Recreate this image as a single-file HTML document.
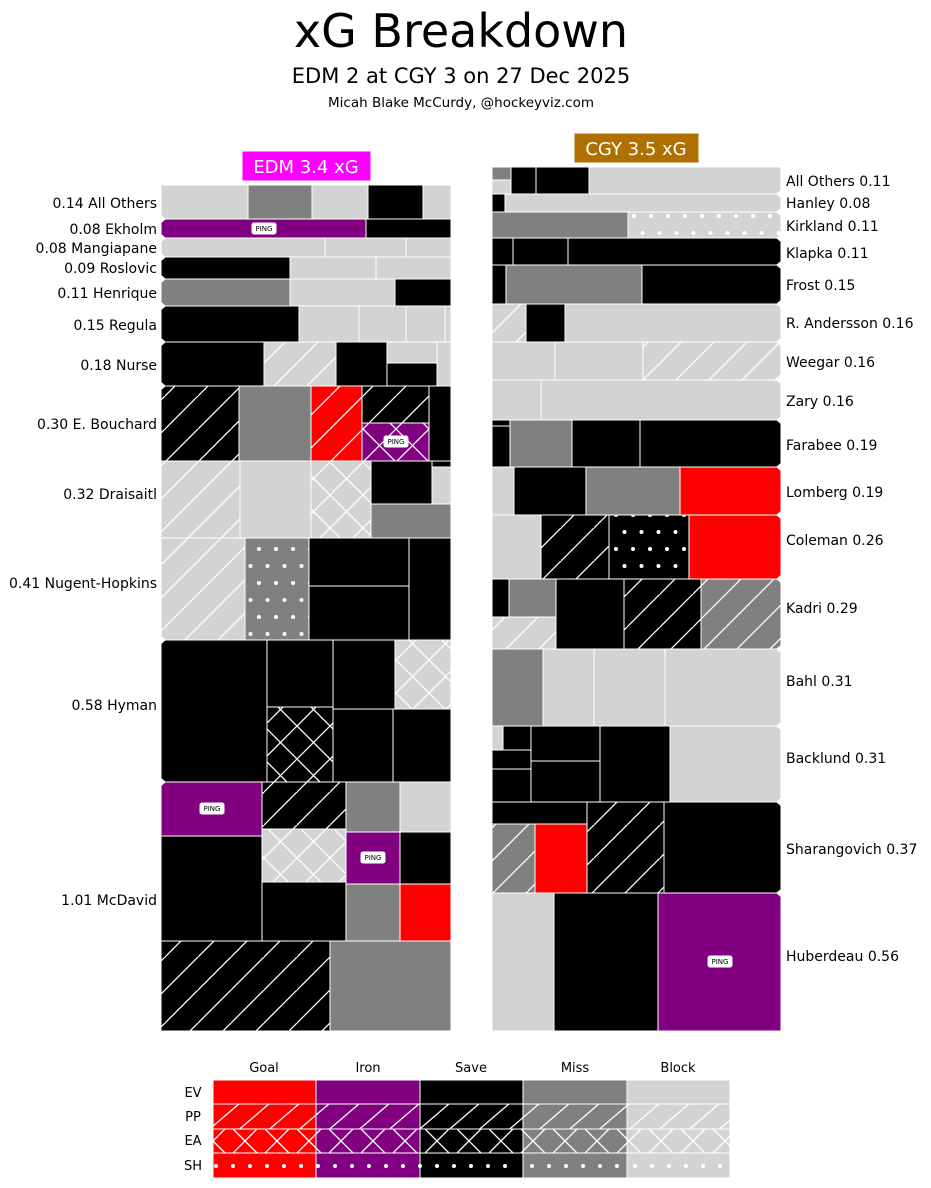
<!DOCTYPE html>
<html><head><meta charset="utf-8"><style>
body{margin:0;background:#fff;}
svg{display:block;font-family:"DejaVu Sans","Liberation Sans",sans-serif;}
.lg{fill:#d3d3d3}.g{fill:#808080}.k{fill:#000}.r{fill:#f00}.p{fill:#800080}
rect{stroke:#fff;stroke-width:1}
.d{fill:url(#d)}.x{fill:url(#x)}.o{fill:url(#o)}
</style></head><body>
<svg width="931" height="1188" viewBox="0 0 931 1188" xmlns="http://www.w3.org/2000/svg">
<defs>
<pattern id="d" patternUnits="userSpaceOnUse" width="33" height="33"><path d="M-5,38 L38,-5 M-38,38 L5,-5" stroke="#fff" stroke-width="1.3" fill="none"/></pattern>
<pattern id="x" patternUnits="userSpaceOnUse" width="33" height="33"><path d="M0,33 L33,0 M0,0 L33,33" stroke="#fff" stroke-width="1.3" fill="none"/></pattern>
<pattern id="o" patternUnits="userSpaceOnUse" width="17" height="34"><circle cx="4" cy="5" r="2" fill="#fff"/><circle cx="12.5" cy="22" r="2" fill="#fff"/></pattern>
<pattern id="o2" patternUnits="userSpaceOnUse" width="17" height="34" y="0"><circle cx="5" cy="12" r="2" fill="#fff"/><circle cx="13.5" cy="29" r="2" fill="#fff"/></pattern>
<pattern id="xl" patternUnits="userSpaceOnUse" width="32" height="24" x="5" y="1129"><path d="M4,0 L28,24 M4,24 L28,0" stroke="#fff" stroke-width="1.3" fill="none"/></pattern>
<pattern id="dl" patternUnits="userSpaceOnUse" width="30" height="25" y="1104"><path d="M-5,29 L30,-1 M25,29 L60,-1 M-35,29 L0,-1" stroke="#fff" stroke-width="1.3" fill="none"/></pattern>
</defs>
<text x="461" y="47" font-size="46" text-anchor="middle">xG Breakdown</text>
<text x="461" y="83" font-size="21" text-anchor="middle">EDM 2 at CGY 3 on 27 Dec 2025</text>
<text x="461" y="107" font-size="13.5" text-anchor="middle">Micah Blake McCurdy, @hockeyviz.com</text>
<rect x="242" y="151" width="129" height="30" fill="#ff00ff" stroke="none"/>
<text x="306" y="173" font-size="18" fill="#fff" text-anchor="middle">EDM 3.4 xG</text>
<rect x="574" y="133" width="125" height="30" fill="#b07000" stroke="none"/>
<text x="636" y="155" font-size="18" fill="#fff" text-anchor="middle">CGY 3.5 xG</text>

<!-- EDM -->
<g>
<rect class="lg" x="161" y="185" width="87" height="34"/><rect class="g" x="248" y="185" width="64" height="34"/><rect class="lg" x="312" y="185" width="56" height="34"/><rect class="k" x="368" y="185" width="55" height="34"/><rect class="lg" x="423" y="185" width="28" height="34"/>
<rect class="p" x="161" y="219" width="205" height="19"/><rect class="k" x="366" y="219" width="85" height="19"/>
<rect class="lg" x="161" y="238" width="164" height="19"/><rect class="lg" x="325" y="238" width="81" height="19"/><rect class="lg" x="406" y="238" width="45" height="19"/>
<rect class="k" x="161" y="257" width="129" height="22"/><rect class="lg" x="290" y="257" width="86" height="22"/><rect class="lg" x="376" y="257" width="75" height="22"/>
<rect class="g" x="161" y="279" width="129" height="27"/><rect class="lg" x="290" y="279" width="105" height="27"/><rect class="k" x="395" y="279" width="56" height="27"/>
<rect class="k" x="161" y="306" width="138" height="36"/><rect class="lg" x="299" y="306" width="60" height="36"/><rect class="lg" x="359" y="306" width="47" height="36"/><rect class="lg" x="406" y="306" width="39" height="36"/><rect class="lg" x="445" y="306" width="6" height="36"/>
<rect class="k" x="161" y="342" width="103" height="44"/><rect class="lg" x="264" y="342" width="72" height="44"/><rect class="d" x="264" y="342" width="72" height="44"/><rect class="k" x="336" y="342" width="51" height="44"/><rect class="lg" x="387" y="342" width="50" height="21"/><rect class="k" x="387" y="363" width="50" height="23"/><rect class="lg" x="437" y="342" width="14" height="44"/>
<rect class="k" x="161" y="386" width="78" height="75"/><rect class="d" x="161" y="386" width="78" height="75"/><rect class="g" x="239" y="386" width="72" height="75"/><rect class="r" x="311" y="386" width="51" height="75"/><rect class="d" x="311" y="386" width="51" height="75"/><rect class="k" x="362" y="386" width="67" height="37"/><rect class="d" x="362" y="386" width="67" height="37"/><rect class="p" x="362" y="423" width="67" height="38"/><rect class="x" x="362" y="423" width="67" height="38"/><rect class="k" x="429" y="386" width="22" height="75"/>
<rect class="lg" x="161" y="461" width="79" height="77"/><rect class="d" x="161" y="461" width="79" height="77"/><rect class="lg" x="240" y="461" width="71" height="77"/><rect class="lg" x="311" y="461" width="60" height="77"/><rect class="x" x="311" y="461" width="60" height="77"/><rect class="k" x="371" y="461" width="61" height="43"/><rect class="k" x="432" y="461" width="19" height="6"/><rect class="lg" x="432" y="467" width="19" height="37"/><rect class="g" x="371" y="504" width="80" height="34"/>
<rect class="lg" x="161" y="538" width="84" height="102"/><rect class="d" x="161" y="538" width="84" height="102"/><rect class="g" x="245" y="538" width="64" height="102"/><rect class="o" x="245" y="538" width="64" height="102"/><rect class="k" x="309" y="538" width="100" height="48"/><rect class="k" x="309" y="586" width="100" height="54"/><rect class="k" x="409" y="538" width="42" height="102"/>
<rect class="k" x="161" y="640" width="106" height="142"/><rect class="k" x="267" y="640" width="66" height="67"/><rect class="k" x="267" y="707" width="66" height="75"/><rect class="x" x="267" y="707" width="66" height="75"/><rect class="k" x="333" y="640" width="62" height="69"/><rect class="lg" x="395" y="640" width="56" height="69"/><rect class="x" x="395" y="640" width="56" height="69"/><rect class="k" x="333" y="709" width="60" height="73"/><rect class="k" x="393" y="709" width="58" height="73"/>
<rect class="p" x="161" y="782" width="101" height="54"/><rect class="k" x="161" y="836" width="101" height="105"/><rect class="k" x="262" y="782" width="84" height="47"/><rect class="d" x="262" y="782" width="84" height="47"/><rect class="lg" x="262" y="829" width="84" height="53"/><rect class="x" x="262" y="829" width="84" height="53"/><rect class="k" x="262" y="882" width="84" height="59"/><rect class="g" x="346" y="782" width="54" height="50"/><rect class="p" x="346" y="832" width="54" height="52"/><rect class="g" x="346" y="884" width="54" height="57"/><rect class="lg" x="400" y="782" width="51" height="50"/><rect class="k" x="400" y="832" width="51" height="52"/><rect class="r" x="400" y="884" width="51" height="57"/><rect class="k" x="161" y="941" width="169" height="90"/><rect class="d" x="161" y="941" width="169" height="90"/><rect class="g" x="330" y="941" width="121" height="90"/>
<g fill="#fff">
<polygon points="160,214 166,219 160,224"/><polygon points="160,233 166,238 160,243"/><polygon points="160,252 166,257 160,262"/><polygon points="160,274 166,279 160,284"/><polygon points="160,301 166,306 160,311"/><polygon points="160,337 166,342 160,347"/><polygon points="160,381 166,386 160,391"/><polygon points="160,635 166,640 160,645"/><polygon points="160,777 166,782 160,787"/>
</g>
</g>
<g font-size="14" text-anchor="end">
<text x="157" y="208">0.14 All Others</text><text x="157" y="234">0.08 Ekholm</text><text x="157" y="253">0.08 Mangiapane</text><text x="157" y="273">0.09 Roslovic</text><text x="157" y="298">0.11 Henrique</text><text x="157" y="330">0.15 Regula</text><text x="157" y="370">0.18 Nurse</text><text x="157" y="429">0.30 E. Bouchard</text><text x="157" y="499">0.32 Draisaitl</text><text x="157" y="588">0.41 Nugent-Hopkins</text><text x="157" y="710">0.58 Hyman</text><text x="157" y="905">1.01 McDavid</text>
</g>

<!-- CGY -->
<g>
<rect class="g" x="492" y="167" width="19" height="13"/><rect class="lg" x="492" y="180" width="19" height="14"/><rect class="k" x="511" y="167" width="25" height="27"/><rect class="k" x="536" y="167" width="53" height="27"/><rect class="lg" x="589" y="167" width="192" height="27"/>
<rect class="k" x="492" y="194" width="13" height="18"/><rect class="lg" x="505" y="194" width="276" height="18"/>
<rect class="g" x="492" y="212" width="136" height="26"/><rect class="lg" x="628" y="212" width="153" height="26"/><rect fill="url(#o2)" x="628" y="212" width="153" height="26"/>
<rect class="k" x="492" y="238" width="21" height="27"/><rect class="k" x="513" y="238" width="55" height="27"/><rect class="k" x="568" y="238" width="213" height="27"/>
<rect class="k" x="492" y="265" width="14" height="39"/><rect class="g" x="506" y="265" width="136" height="39"/><rect class="k" x="642" y="265" width="139" height="39"/>
<rect class="lg" x="492" y="304" width="34" height="38"/><rect class="d" x="492" y="304" width="34" height="38"/><rect class="k" x="526" y="304" width="39" height="38"/><rect class="lg" x="565" y="304" width="216" height="38"/>
<rect class="lg" x="492" y="342" width="63" height="38"/><rect class="lg" x="555" y="342" width="88" height="38"/><rect class="lg" x="643" y="342" width="138" height="38"/><rect class="d" x="643" y="342" width="138" height="38"/>
<rect class="lg" x="492" y="380" width="49" height="40"/><rect class="lg" x="541" y="380" width="240" height="40"/>
<rect class="k" x="492" y="420" width="18" height="6"/><rect class="k" x="492" y="426" width="18" height="41"/><rect class="g" x="510" y="420" width="62" height="47"/><rect class="k" x="572" y="420" width="68" height="47"/><rect class="k" x="640" y="420" width="141" height="47"/>
<rect class="lg" x="492" y="467" width="22" height="48"/><rect class="k" x="514" y="467" width="72" height="48"/><rect class="g" x="586" y="467" width="94" height="48"/><rect class="r" x="680" y="467" width="101" height="48"/>
<rect class="lg" x="492" y="515" width="49" height="64"/><rect class="k" x="541" y="515" width="68" height="64"/><rect class="d" x="541" y="515" width="68" height="64"/><rect class="k" x="609" y="515" width="80" height="64"/><rect class="o" x="609" y="515" width="80" height="64"/><rect class="r" x="689" y="515" width="92" height="64"/>
<rect class="k" x="492" y="579" width="17" height="38"/><rect class="g" x="509" y="579" width="47" height="38"/><rect class="lg" x="492" y="617" width="64" height="32"/><rect class="d" x="492" y="617" width="64" height="32"/><rect class="k" x="556" y="579" width="68" height="70"/><rect class="k" x="624" y="579" width="77" height="70"/><rect class="d" x="624" y="579" width="77" height="70"/><rect class="g" x="701" y="579" width="80" height="70"/><rect class="d" x="701" y="579" width="80" height="70"/>
<rect class="g" x="492" y="649" width="51" height="77"/><rect class="lg" x="543" y="649" width="51" height="77"/><rect class="lg" x="594" y="649" width="71" height="77"/><rect class="lg" x="665" y="649" width="116" height="77"/>
<rect class="lg" x="492" y="726" width="11" height="24"/><rect class="k" x="503" y="726" width="28" height="24"/><rect class="k" x="492" y="750" width="39" height="19"/><rect class="k" x="492" y="769" width="39" height="33"/><rect class="k" x="531" y="726" width="69" height="35"/><rect class="k" x="531" y="761" width="69" height="41"/><rect class="k" x="600" y="726" width="70" height="76"/><rect class="lg" x="670" y="726" width="111" height="76"/>
<rect class="k" x="492" y="802" width="95" height="22"/><rect class="g" x="492" y="824" width="43" height="69"/><rect class="d" x="492" y="824" width="43" height="69"/><rect class="r" x="535" y="824" width="52" height="69"/><rect class="k" x="587" y="802" width="77" height="91"/><rect class="d" x="587" y="802" width="77" height="91"/><rect class="k" x="664" y="802" width="117" height="91"/>
<rect class="lg" x="492" y="893" width="62" height="138"/><rect class="k" x="554" y="893" width="104" height="138"/><rect class="p" x="658" y="893" width="123" height="138"/>
<g fill="#fff">
<polygon points="782,189 776,194 782,199"/><polygon points="782,207 776,212 782,217"/><polygon points="782,233 776,238 782,243"/><polygon points="782,260 776,265 782,270"/><polygon points="782,299 776,304 782,309"/><polygon points="782,337 776,342 782,347"/><polygon points="782,375 776,380 782,385"/><polygon points="782,415 776,420 782,425"/><polygon points="782,462 776,467 782,472"/><polygon points="782,510 776,515 782,520"/><polygon points="782,574 776,579 782,584"/><polygon points="782,644 776,649 782,654"/><polygon points="782,721 776,726 782,731"/><polygon points="782,797 776,802 782,807"/><polygon points="782,888 776,893 782,898"/>
</g>
</g>
<g font-size="14">
<text x="786" y="186">All Others 0.11</text><text x="786" y="208">Hanley 0.08</text><text x="786" y="231">Kirkland 0.11</text><text x="786" y="258">Klapka 0.11</text><text x="786" y="290">Frost 0.15</text><text x="786" y="328">R. Andersson 0.16</text><text x="786" y="367">Weegar 0.16</text><text x="786" y="406">Zary 0.16</text><text x="786" y="450">Farabee 0.19</text><text x="786" y="497">Lomberg 0.19</text><text x="786" y="545">Coleman 0.26</text><text x="786" y="613">Kadri 0.29</text><text x="786" y="686">Bahl 0.31</text><text x="786" y="763">Backlund 0.31</text><text x="786" y="854">Sharangovich 0.37</text><text x="786" y="961">Huberdeau 0.56</text>
</g>

<!-- PING labels -->
<g font-size="7" text-anchor="middle">
<rect x="252" y="223" width="24" height="11" rx="2" fill="#fff" stroke="none"/><text x="264" y="231">PING</text>
<rect x="384" y="436" width="24" height="11" rx="2" fill="#fff" stroke="none"/><text x="396" y="444">PING</text>
<rect x="200" y="803" width="24" height="11" rx="2" fill="#fff" stroke="none"/><text x="212" y="811">PING</text>
<rect x="361" y="852" width="24" height="11" rx="2" fill="#fff" stroke="none"/><text x="373" y="860">PING</text>
<rect x="708" y="956" width="24" height="11" rx="2" fill="#fff" stroke="none"/><text x="720" y="964">PING</text>
</g>

<!-- Legend -->
<g font-size="13" text-anchor="middle">
<text x="264" y="1072">Goal</text><text x="368" y="1072">Iron</text><text x="471" y="1072">Save</text><text x="575" y="1072">Miss</text><text x="678" y="1072">Block</text>
<text x="193" y="1097">EV</text><text x="193" y="1121">PP</text><text x="193" y="1145">EA</text><text x="193" y="1170">SH</text>
</g>
<g>
<rect class="r" x="213" y="1080" width="103" height="24"/><rect class="p" x="316" y="1080" width="104" height="24"/><rect class="k" x="420" y="1080" width="103" height="24"/><rect class="g" x="523" y="1080" width="104" height="24"/><rect class="lg" x="627" y="1080" width="103" height="24"/>
<rect class="r" x="213" y="1104" width="103" height="25"/><rect class="p" x="316" y="1104" width="104" height="25"/><rect class="k" x="420" y="1104" width="103" height="25"/><rect class="g" x="523" y="1104" width="104" height="25"/><rect class="lg" x="627" y="1104" width="103" height="25"/>
<rect fill="url(#dl)" x="213" y="1104" width="517" height="25"/>
<rect class="r" x="213" y="1129" width="103" height="24"/><rect class="p" x="316" y="1129" width="104" height="24"/><rect class="k" x="420" y="1129" width="103" height="24"/><rect class="g" x="523" y="1129" width="104" height="24"/><rect class="lg" x="627" y="1129" width="103" height="24"/>
<rect fill="url(#xl)" x="213" y="1129" width="517" height="24"/>
<rect class="r" x="213" y="1153" width="103" height="25"/><rect class="p" x="316" y="1153" width="104" height="25"/><rect class="k" x="420" y="1153" width="103" height="25"/><rect class="g" x="523" y="1153" width="104" height="25"/><rect class="lg" x="627" y="1153" width="103" height="25"/>
<g fill="#fff">
<circle cx="216" cy="1166" r="2"/><circle cx="233" cy="1166" r="2"/><circle cx="250" cy="1166" r="2"/><circle cx="267" cy="1166" r="2"/><circle cx="284" cy="1166" r="2"/><circle cx="301" cy="1166" r="2"/><circle cx="318" cy="1166" r="2"/><circle cx="335" cy="1166" r="2"/><circle cx="352" cy="1166" r="2"/><circle cx="369" cy="1166" r="2"/><circle cx="386" cy="1166" r="2"/><circle cx="403" cy="1166" r="2"/><circle cx="420" cy="1166" r="2"/><circle cx="437" cy="1166" r="2"/><circle cx="454" cy="1166" r="2"/><circle cx="471" cy="1166" r="2"/><circle cx="488" cy="1166" r="2"/><circle cx="505" cy="1166" r="2"/><circle cx="532" cy="1166" r="2"/><circle cx="549" cy="1166" r="2"/><circle cx="566" cy="1166" r="2"/><circle cx="583" cy="1166" r="2"/><circle cx="600" cy="1166" r="2"/><circle cx="617" cy="1166" r="2"/><circle cx="635" cy="1166" r="2"/><circle cx="652" cy="1166" r="2"/><circle cx="669" cy="1166" r="2"/><circle cx="686" cy="1166" r="2"/><circle cx="703" cy="1166" r="2"/><circle cx="720" cy="1166" r="2"/>
</g>
</g>
</svg>
</body></html>
